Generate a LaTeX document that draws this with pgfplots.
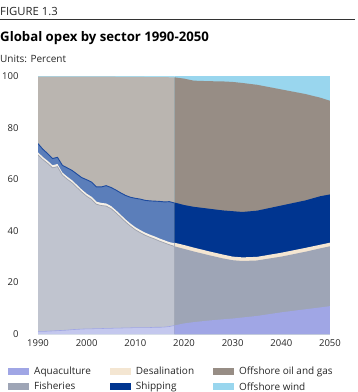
\documentclass[border=0pt]{standalone}
\usepackage{fontspec}
\setmainfont{Open Sans}
\usepackage{pgfplots}
\usepackage{pgfplotstable}
\pgfplotsset{compat=1.18}

\definecolor{aquaH}{HTML}{C4C8EE}
\definecolor{aquaP}{HTML}{A0A6E5}
\definecolor{fishH}{HTML}{C0C4CF}
\definecolor{fishP}{HTML}{9EA5B6}
\definecolor{desalH}{HTML}{F6F0E6}
\definecolor{desalP}{HTML}{F4E6D2}
\definecolor{shipH}{HTML}{5B7EBA}
\definecolor{shipP}{HTML}{003590}
\definecolor{oilH}{HTML}{BAB5B0}
\definecolor{oilP}{HTML}{978D85}
\definecolor{windH}{HTML}{A6DDF0}
\definecolor{windP}{HTML}{99D6EE}
\definecolor{shipLine}{HTML}{1E4B9E}
\definecolor{fishLine}{HTML}{9EA2AE}

% cumulative tops of each band, historical period
\pgfplotstableread{
year aqua fish desal ship oil wind
1990 1.0 69.4 70.4 73.8 99.8 100
1991 1.0 67.6 68.6 71.6 99.8 100
1992 1.1 66.1 67.1 69.9 99.8 100
1993 1.2 64.4 65.4 68.0 99.8 100
1994 1.3 64.9 65.9 68.5 99.8 100
1995 1.4 61.6 62.6 65.4 99.8 100
1996 1.5 60.0 61.0 64.4 99.8 100
1997 1.7 58.6 59.6 63.4 99.8 100
1998 1.8 56.8 57.8 62.0 99.8 100
1999 1.9 55.0 56.0 60.6 99.8 100
2000 2.0 53.4 54.4 59.8 99.8 100
2001 2.0 52.2 53.2 58.9 99.8 100
2002 2.1 50.3 51.3 57.0 99.8 100
2003 2.1 49.8 50.8 57.0 99.8 100
2004 2.2 49.6 50.6 57.5 99.8 100
2005 2.2 48.6 49.6 56.8 99.8 100
2006 2.3 47.0 48.0 55.8 99.7 100
2007 2.3 45.2 46.2 54.7 99.7 100
2008 2.4 43.4 44.4 53.7 99.7 100
2009 2.4 41.8 42.8 53.0 99.7 100
2010 2.5 40.4 41.4 52.6 99.7 100
2011 2.5 39.3 40.3 52.3 99.7 100
2012 2.5 38.3 39.3 51.8 99.6 100
2013 2.5 37.5 38.5 51.6 99.6 100
2014 2.6 36.8 37.8 51.5 99.6 100
2015 2.6 36.0 37.0 51.4 99.6 100
2016 2.7 35.3 36.3 51.2 99.6 100
2017 2.9 34.6 35.6 51.3 99.5 100
2018 3.3 34.0 35.2 50.8 99.5 100
}\histdata

% cumulative tops of each band, projection period
\pgfplotstableread{
year aqua fish desal ship oil wind
2018 3.3 34.0 35.4 51.0 99.5 100
2020 4.1 33.0 34.5 50.0 99.0 100
2022 4.6 32.0 33.5 49.3 98.2 100
2025 5.2 30.6 32.1 48.6 98.0 100
2028 5.7 29.3 30.8 47.9 97.9 100
2030 6.0 28.6 30.0 47.6 97.7 100
2032 6.4 28.3 29.7 47.3 97.3 100
2035 7.0 28.5 29.9 47.8 96.6 100
2040 8.4 30.0 31.5 49.8 94.8 100
2045 9.6 31.9 33.4 51.8 93.0 100
2048 10.3 33.2 34.6 53.4 91.6 100
2050 10.8 34.0 35.4 54.1 90.4 100
}\projdata

\begin{document}
\begin{tikzpicture}
\useasboundingbox (0,0) rectangle (358pt,-392pt);

\node[anchor=base west, inner sep=0pt, font=\fontsize{11.3}{13}\selectfont, text=black!85] at (0pt,-15pt) {FIGURE 1.3};
\draw[black!80, line width=0.8pt] (0pt,-19pt) -- (355pt,-19pt);
\node[anchor=base west, inner sep=0pt, font=\fontsize{13.2}{15}\bfseries\selectfont] at (0pt,-41pt) {Global opex by sector 1990-2050};
\node[anchor=base west, inner sep=0pt, font=\fontsize{10}{11}\selectfont, text=black!85] at (0pt,-62pt) {Units: Percent};

\pgfplotsset{
  chartbase/.style={
    at={(38pt,-334pt)}, anchor=south west,
    scale only axis, width=292pt, height=258pt,
    xmin=1990, xmax=2050, ymin=0, ymax=100,
  },
}

% historical period 1990-2018
\begin{axis}[chartbase, hide axis]
\addplot[draw=none, fill=windH] table[x=year, y=wind] {\histdata} \closedcycle;
\addplot[draw=none, fill=oilH] table[x=year, y=oil] {\histdata} \closedcycle;
\addplot[draw=none, fill=shipH] table[x=year, y=ship] {\histdata} \closedcycle;
\addplot[draw=none, fill=desalH] table[x=year, y=desal] {\histdata} \closedcycle;
\addplot[draw=none, fill=fishH] table[x=year, y=fish] {\histdata} \closedcycle;
\addplot[draw=none, fill=aquaH] table[x=year, y=aqua] {\histdata} \closedcycle;
\addplot[shipLine, line width=0.9pt] table[x=year, y=ship] {\histdata};
\addplot[fishLine, line width=0.7pt] table[x=year, y=fish] {\histdata};
\addplot[aquaP, line width=0.6pt] table[x=year, y=aqua] {\histdata};
\end{axis}

% projection 2018-2050
\begin{axis}[chartbase,
  axis line style={draw=none},
  major tick length=0pt,
  xtick={1990,2000,...,2050},
  ytick={0,20,...,100},
  /pgf/number format/1000 sep={},
  /pgf/number format/assume math mode=true,
  tick label style={font=\fontsize{9.5}{11}\selectfont, text=black!85},
  yticklabel style={xshift=-16pt},
  xticklabel style={yshift=-2pt},
  legend columns=3,
  legend cell align=left,
  legend style={at={(-33pt,-29pt)}, anchor=north west, draw=none, fill=none,
    font=\fontsize{10}{12}\selectfont, text=black!85,
    row sep=2pt,
    /tikz/every odd column/.append style={column sep=3pt},
    /tikz/every even column/.append style={column sep=17pt}},
  legend image code/.code={\fill[draw=none,#1] (0pt,-3.5pt) rectangle (21pt,3.5pt);},
]
\addplot[draw=none, fill=windP, forget plot] table[x=year, y=wind] {\projdata} \closedcycle;
\addplot[draw=none, fill=oilP, forget plot] table[x=year, y=oil] {\projdata} \closedcycle;
\addplot[draw=none, fill=shipP, forget plot] table[x=year, y=ship] {\projdata} \closedcycle;
\addplot[draw=none, fill=desalP, forget plot] table[x=year, y=desal] {\projdata} \closedcycle;
\addplot[draw=none, fill=fishP, forget plot] table[x=year, y=fish] {\projdata} \closedcycle;
\addplot[draw=none, fill=aquaP, forget plot] table[x=year, y=aqua] {\projdata} \closedcycle;
\addlegendimage{fill=aquaP}
\addlegendentry{Aquaculture}
\addlegendimage{fill=desalP}
\addlegendentry{Desalination}
\addlegendimage{fill=oilP}
\addlegendentry{Offshore oil and gas}
\addlegendimage{fill=fishP}
\addlegendentry{Fisheries}
\addlegendimage{fill=shipP}
\addlegendentry{Shipping}
\addlegendimage{fill=windP}
\addlegendentry{Offshore wind}
\end{axis}
\end{tikzpicture}
\end{document}
